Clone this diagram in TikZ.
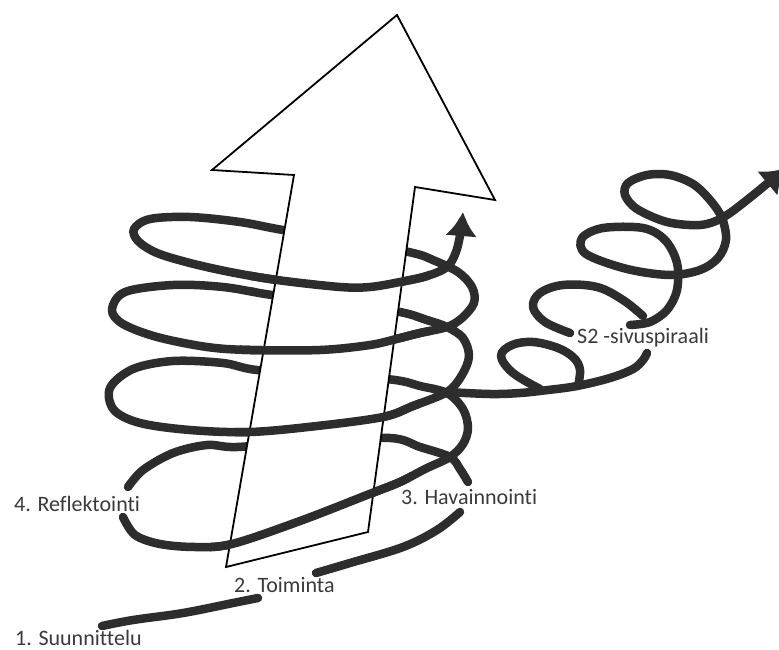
\documentclass[tikz,border=0pt]{standalone}
\usepackage{fontspec}
\newfontfamily\labelfont[Ligatures=NoCommon]{Carlito}
\usetikzlibrary{arrows.meta}
\definecolor{ink}{RGB}{45,45,45}
\definecolor{txt}{RGB}{58,58,58}
\newcommand\helixmain{plot[smooth,tension=0.55] coordinates {
 (123,517) (135,535) (160,544) (195,547) (232,544) (300,521) (367,495) (400,482) (425,469) (450,457)
 (463,444) (468,428) (463,409) (447,393) (420,386) (395,380) (330,374) (257,370) (223,363) (173,361)
 (133,369) (110,388) (114,410) (140,423) (190,430) (250,432) (317,426) (383,417) (413,406) (447,392)
 (462,375) (469,356) (463,338) (447,327) (427,320) (400,312) (335,302) (272,295) (223,287) (173,285)
 (125,292) (112,310) (123,324) (157,337) (207,347) (250,350) (320,350) (370,345) (400,338) (420,333)
 (447,327) (462,318) (474,303) (472,287) (458,272) (433,260) (413,253) (350,240) (283,230) (240,222)
 (190,217) (150,219) (134,229) (138,241) (157,253) (190,263) (230,272) (277,280) (340,287) (370,287)
 (400,282) (427,276) (447,267) (456,252) (461,230) (463,212)}}
\begin{document}
\begin{tikzpicture}[x=1pt,y=-1pt,
  helix/.style={draw=ink,line width=8.5pt,line cap=round,line join=round},
  tipped/.style={-{Latex[length=24pt,width=32pt]}},
  bigarrow/.style={draw=black,line width=1.8pt,fill=white,line join=miter},
  lbl/.style={font=\labelfont\fontsize{22}{26}\selectfont,text=txt,anchor=base west,inner sep=0pt}]
\useasboundingbox[fill=white] (0,0) rectangle (779,650);

% lead-in and lower strokes of the main spiral
\draw[helix] plot[smooth,tension=0.6] coordinates {(102,626) (133,620) (183,613) (233,603) (258,598)};
\draw[helix] plot[smooth,tension=0.6] coordinates {(316,573) (350,563) (403,547) (437,530) (460,512)};
\draw[helix] plot[smooth,tension=0.55] coordinates {(468,482) (460,469) (450,457) (420,447) (390,438) (310,441) (237,447) (207,445) (173,453) (143,470) (128,487)};
\draw[helix,tipped] \helixmain;

% side spiral
\draw[helix] plot[smooth,tension=0.6] coordinates {(447,392) (490,394) (520,393) (548,390) (577,386) (610,378) (633,369) (643,360) (647,353)};
\draw[helix] plot[smooth,tension=0.6] coordinates {(540,389) (513,373) (501,356) (512,345) (533,342) (558,348) (574,358) (580,370) (578,386)};
\draw[helix] plot[smooth,tension=0.6] coordinates {(570,333) (545,322) (533,307) (540,293) (563,285) (597,287) (623,300) (643,316)};
\draw[helix,tipped] plot[smooth,tension=0.55] coordinates {(630,325) (650,322) (667,310) (677,290) (677,263) (665,240) (643,228) (603,228) (582,238) (586,254) (627,269) (670,275) (700,270) (718,258) (726,240) (722,218) (710,200) (693,184) (670,175) (647,175) (628,183) (625,195) (637,209) (667,222) (700,225) (722,218) (747,200) (786,168)};

% big arrow
\draw[bigarrow] (294,175) -- (212,170) -- (397,15) -- (495,200) -- (415,187) -- (368,532) -- (226,567) -- cycle;

% front strokes over the arrow
\begin{scope}
\clip (250,270) -- (430,266) -- (430,290) -- (400,292) -- (340,293) -- (250,288) -- cycle
      (240,335) -- (330,335) -- (400,322) -- (430,318) -- (430,350) -- (400,350) -- (330,362) -- (240,362) -- cycle
      (235,395) -- (420,392) -- (420,425) -- (390,428) -- (250,439) -- (235,440) -- cycle
      (210,535) -- (300,505) -- (367,478) -- (400,465) -- (410,465) -- (410,495) -- (367,510) -- (300,535) -- (230,560) -- (210,560) -- cycle;
\draw[helix,tipped] \helixmain;
\end{scope}

% labels
\node[lbl] (suun) at (15,645) {1. Suunnittelu};
\node[lbl] (toim) at (234,592) {2. Toiminta};
\node[lbl] (hav) at (401,504) {3. Havainnointi};
\node[lbl] (refl) at (14,511) {4. Reflektointi};
\node[lbl] (sivu) at (577,343) {S2 -sivuspiraali};
\end{tikzpicture}
\end{document}
